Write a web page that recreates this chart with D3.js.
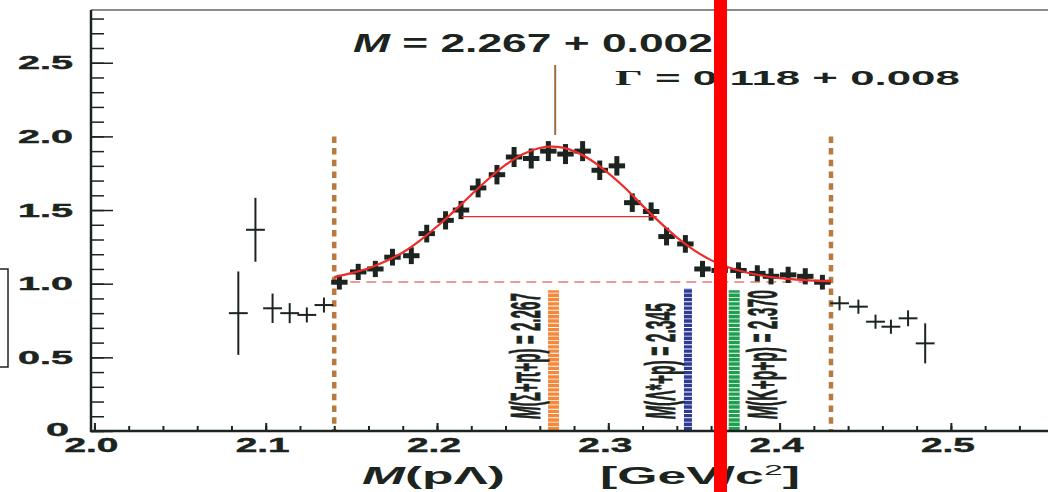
<!DOCTYPE html>
<html><head><meta charset="utf-8">
<script src="https://cdn.jsdelivr.net/npm/d3@7"></script>
<style>html,body{margin:0;padding:0;background:#fff;overflow:hidden}</style>
</head><body>
<svg id="c" width="1048" height="492"></svg>
<script>
// ---------- data ----------
const fitX   = [2.143,2.154,2.164,2.174,2.185,2.194,2.205,2.214,2.224,2.235,2.245,2.255,2.265,2.275,2.285,2.295,2.305,2.314,2.325,2.334,2.345,2.355,2.365,2.376,2.387,2.395,2.405,2.415,2.425];
const fitY   = [1.01,1.08,1.10,1.18,1.19,1.34,1.43,1.50,1.65,1.74,1.86,1.85,1.90,1.88,1.90,1.77,1.80,1.55,1.49,1.32,1.27,1.10,1.09,1.09,1.07,1.05,1.06,1.05,1.01];
const fitErr = [0.05,0.055,0.055,0.057,0.057,0.06,0.062,0.062,0.064,0.066,0.068,0.068,0.068,0.068,0.068,0.066,0.066,0.063,0.062,0.06,0.06,0.055,0.055,0.055,0.055,0.055,0.055,0.055,0.05];
const sideX   = [2.084,2.094,2.104,2.114,2.124,2.134,2.435,2.446,2.456,2.465,2.475,2.485];
const sideY   = [0.80,1.366,0.833,0.80,0.788,0.855,0.867,0.844,0.742,0.708,0.765,0.595];
const sideErr = [0.283,0.217,0.10,0.068,0.051,0.051,0.048,0.048,0.048,0.048,0.054,0.136];
const curveX = [2.14,2.15,2.16,2.17,2.18,2.19,2.20,2.21,2.22,2.23,2.24,2.25,2.26,2.267,2.28,2.29,2.30,2.31,2.32,2.33,2.34,2.35,2.36,2.37,2.38,2.39,2.40,2.41,2.42,2.43];
const curveY = [1.045,1.072,1.105,1.152,1.212,1.293,1.388,1.493,1.604,1.711,1.806,1.879,1.921,1.930,1.900,1.838,1.751,1.648,1.530,1.418,1.315,1.228,1.160,1.112,1.078,1.054,1.038,1.028,1.021,1.017];
const baseline = 1.012;
const fwhmRange = [2.2145, 2.3283];
const fwhmY = 1.455;
const fitRange = [2.14, 2.43];
const peakMass = 2.269;
const thresholds = [2.268, 2.3465, 2.3735];
const thresholdLabels = ["= 2.267", "= 2.345", "= 2.370"];
const thresholdNames = [["M","(Σ+π+p) "],["M","(Λ*+p) "],["M","(K+p+p) "]];
const thresholdColors = ["#f5883a","#2e3a94","#1f9e52"];
const xMajor = [2.0,2.1,2.2,2.3,2.4,2.5];
const xMajorLabels = ["2.0","2.1","2.2","2.3","2.4","2.5"];
const yMajor = [0,0.5,1.0,1.5,2.0,2.5];
const yMajorLabels = ["0","0.5","1.0","1.5","2.0","2.5"];
const markerX = 2.3655;

// ---------- setup ----------
const svg = d3.select("#c");
const FONT = "'Liberation Sans', Arial, Helvetica, sans-serif";
const INK = "#1c2420";
const x = d3.scaleLinear().domain([1.998, 2.5567]).range([91, 1048]);
const y = d3.scaleLinear().domain([0, 2.858]).range([431, 10]);

function stretched(parent, build, o) {
  const g = parent.append("g");
  const t = g.append("text").attr("x",0).attr("y",0)
    .attr("font-family", o.family || FONT).attr("font-weight", o.weight || "bold")
    .attr("font-size", o.size).attr("fill", INK);
  if (o.heavy) t.attr("stroke", INK).attr("stroke-width", o.heavy);
  build(t);
  const w = t.node().getComputedTextLength();
  const s = o.w / w;
  if (o.rotate) {
    g.attr("transform", `translate(${o.x},${o.y}) rotate(-90) scale(${s},${o.sh||1})`);
  } else {
    let x0 = o.x;
    if (o.anchor === "end") x0 = o.x - o.w;
    if (o.anchor === "middle") x0 = o.x - o.w/2;
    g.attr("transform", `translate(${x0},${o.y}) scale(${s},1)`);
  }
  return g;
}

// left partial box
svg.append("rect").attr("x",-10).attr("y",269).attr("width",18).attr("height",98)
  .attr("fill","none").attr("stroke",INK).attr("stroke-width",1.5);

// threshold bars
thresholds.forEach((v,i) => {
  svg.append("line").attr("x1",x(v)).attr("x2",x(v))
    .attr("y1",y(0.005)).attr("y2",y(i===1?0.97:0.955))
    .attr("stroke",thresholdColors[i]).attr("stroke-width", i===1?8:11)
    .attr("stroke-dasharray","3.4,0.9");
});

// threshold labels (rotated)
const labelBase = [540, 675, 777];
const labelLen = [126, 116, 129];
thresholds.forEach((v,i) => {
  stretched(svg, t => {
    t.append("tspan").attr("font-style","italic").text(thresholdNames[i][0]);
    t.append("tspan").text(thresholdNames[i][1] + thresholdLabels[i]);
  }, {x: labelBase[i], y: 419, w: labelLen[i], size: 16, rotate: true, sh: 2.6, heavy: 0.3});
});

// fit range dotted lines
fitRange.forEach(v => {
  svg.append("line").attr("x1",x(v)).attr("x2",x(v)).attr("y1",y(2.0)).attr("y2",y(0))
    .attr("stroke","#b87a3e").attr("stroke-width",4.5).attr("stroke-dasharray","6.5,5.2");
});

// dashed baseline
svg.append("line").attr("x1",x(fitRange[0])).attr("x2",x(fitRange[1]))
  .attr("y1",y(baseline)).attr("y2",y(baseline))
  .attr("stroke","#f07878").attr("stroke-width",1.6).attr("stroke-dasharray","10,6");

// side points (thin)
const sideG = svg.append("g").attr("stroke",INK).attr("stroke-width",2);
sideX.forEach((v,i) => {
  sideG.append("line").attr("x1",x(v-0.0055)).attr("x2",x(v+0.0055)).attr("y1",y(sideY[i])).attr("y2",y(sideY[i]));
  sideG.append("line").attr("x1",x(v)).attr("x2",x(v)).attr("y1",y(sideY[i]-sideErr[i])).attr("y2",y(sideY[i]+sideErr[i]));
});

// fit-region points (thick)
const fitG = svg.append("g").attr("stroke",INK).attr("stroke-width",5);
fitX.forEach((v,i) => {
  fitG.append("line").attr("x1",x(v-0.0048)).attr("x2",x(v+0.0048)).attr("y1",y(fitY[i])).attr("y2",y(fitY[i]));
  fitG.append("line").attr("x1",x(v)).attr("x2",x(v)).attr("y1",y(fitY[i]-fitErr[i])).attr("y2",y(fitY[i]+fitErr[i]));
});

// FWHM line
svg.append("line").attr("x1",x(fwhmRange[0])).attr("x2",x(fwhmRange[1]))
  .attr("y1",y(fwhmY)).attr("y2",y(fwhmY)).attr("stroke","#e8282a").attr("stroke-width",1.2);

// fit curve
const line = d3.line().x((d,i)=>x(curveX[i])).y(d=>y(d)).curve(d3.curveMonotoneX);
svg.append("path").attr("d", line(curveY)).attr("fill","none")
  .attr("stroke","#ee2a2a").attr("stroke-width",2.2);

// peak marker line
svg.append("line").attr("x1",x(peakMass)).attr("x2",x(peakMass)).attr("y1",y(2.485)).attr("y2",y(2.01))
  .attr("stroke","#9a6b45").attr("stroke-width",2);

// axes
const yMinor = d3.range(0, 2.85, 0.1);
svg.append("g").attr("transform","translate(91,0)")
  .call(d3.axisRight(y).tickValues(yMinor).tickSize(13).tickFormat(""))
  .call(g=>g.select(".domain").remove())
  .call(g=>g.selectAll("line").attr("stroke",INK).attr("stroke-width",1.5));
svg.append("g").attr("transform","translate(91,0)")
  .call(d3.axisRight(y).tickValues(yMajor).tickSize(22).tickFormat(""))
  .call(g=>g.select(".domain").remove())
  .call(g=>g.selectAll("line").attr("stroke",INK).attr("stroke-width",1.5));
const xMinor = d3.range(2.0, 2.56, 0.02);
svg.append("g").attr("transform","translate(0,431)")
  .call(d3.axisTop(x).tickValues(xMinor).tickSize(5).tickFormat(""))
  .call(g=>g.select(".domain").remove())
  .call(g=>g.selectAll("line").attr("stroke",INK).attr("stroke-width",2));
svg.append("g").attr("transform","translate(0,431)")
  .call(d3.axisTop(x).tickValues(xMajor).tickSize(8).tickFormat(""))
  .call(g=>g.select(".domain").remove())
  .call(g=>g.selectAll("line").attr("stroke",INK).attr("stroke-width",2));

// frame
svg.append("line").attr("x1",91).attr("x2",1048).attr("y1",10).attr("y2",10).attr("stroke","#666").attr("stroke-width",1.5);
svg.append("line").attr("x1",91).attr("x2",91).attr("y1",10).attr("y2",432).attr("stroke",INK).attr("stroke-width",2.5);
svg.append("line").attr("x1",90).attr("x2",1048).attr("y1",431).attr("y2",431).attr("stroke",INK).attr("stroke-width",2.5);

// tick labels
yMajor.forEach((v,i) => {
  const lab = yMajorLabels[i];
  const one = lab.length === 1;
  stretched(svg, t=>t.text(lab), {x: one?69:73, y: y(v)+(one?4.5:6.5), w: one?23:55, size: 18, anchor:"end", heavy: 0.4});
});
xMajor.forEach((v,i) => {
  stretched(svg, t=>t.text(xMajorLabels[i]), {x: x(v)-3, y: 452, w: 54, size: 19.5, anchor:"middle", heavy: 0.4});
});

// axis title
stretched(svg, t => {
  t.append("tspan").attr("font-style","italic").text("M");
  t.append("tspan").text("(pΛ)");
}, {x: 362, y: 484, w: 143, size: 23});
stretched(svg, t => {
  t.append("tspan").text("[GeV/c");
  t.append("tspan").attr("font-size",15).attr("font-weight","normal").attr("dy",-9).text("2");
  t.append("tspan").attr("dy",9).text("]");
}, {x: 600, y: 484, w: 200, size: 23});

// fit results
stretched(svg, t => {
  t.append("tspan").attr("font-style","italic").text("M");
  t.append("tspan").text(" = 2.267 + 0.002");
}, {x: 353, y: 52, w: 360, size: 25});
stretched(svg, t => {
  t.append("tspan").attr("font-family","'Liberation Serif', 'Times New Roman', serif").text("Γ");
  t.append("tspan").text(" = 0.118 + 0.008");
}, {x: 615, y: 85, w: 345, size: 21});

// red marker (on top)
svg.append("rect").attr("x", x(markerX)-6.5).attr("y",0).attr("width",13).attr("height",492).attr("fill","#ff0000");
</script>
</body></html>
